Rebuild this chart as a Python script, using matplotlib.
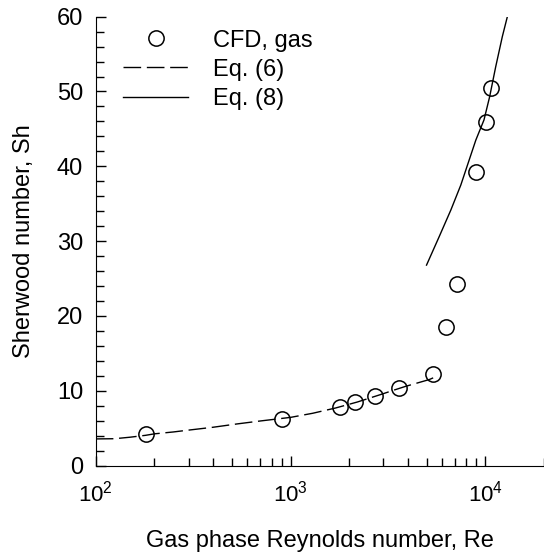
import numpy as np
import matplotlib
matplotlib.use("Agg")
import matplotlib.pyplot as plt
from matplotlib.ticker import MultipleLocator, LogLocator

plt.rcParams['font.family'] = ['Liberation Sans', 'DejaVu Sans']
plt.rcParams['mathtext.fontset'] = 'custom'
plt.rcParams['mathtext.rm'] = 'Liberation Sans'
plt.rcParams['mathtext.it'] = 'Liberation Sans:italic'
plt.rcParams['font.size'] = 17

# CFD 点
re_cfd = [182, 906, 1800, 2146, 2710, 3589, 5355, 6251, 7180, 8990, 10050, 10740]
sh_cfd = [4.21, 6.19, 7.85, 8.46, 9.27, 10.35, 12.2, 18.53, 24.3, 39.29, 45.97, 50.43]

# Eq. (6) 曲线
re_eq6 = [100, 125, 150, 180, 200, 250, 300, 400, 530, 700, 1000, 1300,
          1700, 2200, 2900, 3400, 3900, 5150, 5700]
sh_eq6 = [3.57, 3.6, 3.8, 4.05, 4.25, 4.5, 4.75, 5.13, 5.57, 5.97, 6.45, 7.0,
          7.7, 8.5, 9.5, 10.1, 10.6, 11.5, 12.0]

# Eq. (8) 曲线
re_eq8 = [4989, 5794, 6653, 7482, 8260, 8933, 9840, 10520, 11300, 12220, 12970]
sh_eq8 = [26.8, 30.6, 34.17, 37.5, 40.85, 43.5, 46.2, 49.3, 53.3, 57.33, 60.0]

fig = plt.figure(figsize=(5.44, 5.55), dpi=100)
ax = fig.add_axes([0.176, 0.161, 0.824, 0.809])

ax.plot(re_cfd, sh_cfd, linestyle='none', marker='o', markersize=11,
        markerfacecolor='none', markeredgecolor='black', markeredgewidth=1.1,
        label='CFD, gas', zorder=3)
ax.plot(re_eq6, sh_eq6, color='black', linewidth=1.0, dashes=(12.7, 4.1),
        label='Eq. (6)')
ax.plot(re_eq8, sh_eq8, color='black', linewidth=1.0, label='Eq. (8)')

ax.set_xscale('log')
ax.set_xlim(100, 20000)
ax.set_ylim(0, 60)
ax.yaxis.set_major_locator(MultipleLocator(10))
ax.yaxis.set_minor_locator(MultipleLocator(2))
ax.xaxis.set_minor_locator(LogLocator(base=10, subs=np.arange(2, 10)))

ax.spines['top'].set_visible(False)
ax.spines['right'].set_visible(False)
ax.tick_params(which='both', direction='in', width=1.0)
ax.tick_params(which='major', length=7.2)
ax.tick_params(which='minor', length=5.5)
ax.tick_params(axis='y', pad=9)
ax.tick_params(axis='x', pad=11, labelsize=16)

ax.set_xlabel('Gas phase Reynolds number, Re', labelpad=17)
ax.set_ylabel('Sherwood number, Sh', labelpad=16)

ax.legend(loc='upper left', bbox_to_anchor=(0.061, 0.971), frameon=False,
          borderpad=0, borderaxespad=0, handlelength=2.75, handletextpad=1.05,
          labelspacing=0.3)

plt.savefig('out.png', dpi=100)
